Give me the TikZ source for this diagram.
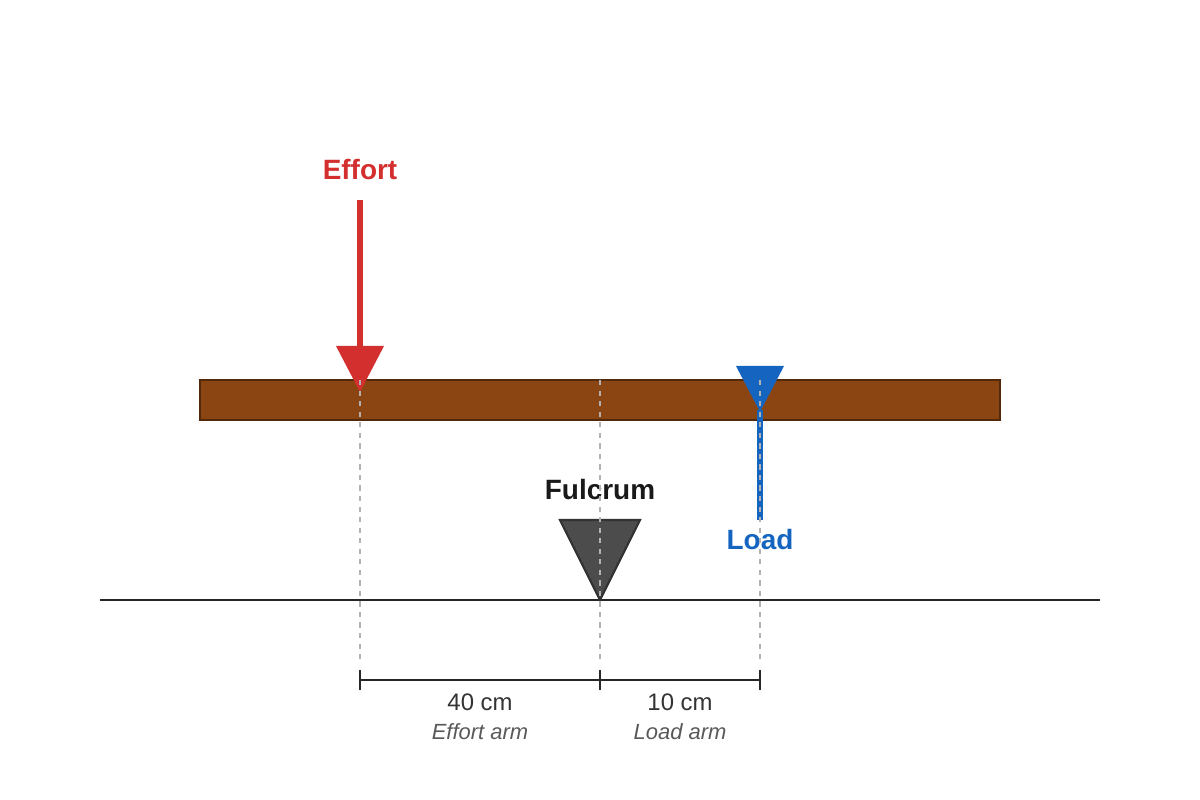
\documentclass[tikz,border=0pt]{standalone}
\usepackage{fontspec}
\setmainfont{Liberation Sans}
\begin{document}
\begin{tikzpicture}[x=0.02cm,y=-0.02cm,
  lbl/.style={font=\fontsize{15.9}{18}\selectfont\bfseries},
  num/.style={font=\fontsize{13.6}{16}\selectfont,text=black!80},
  arm/.style={font=\fontsize{12.5}{15}\selectfont\itshape,text=black!65},
  guide/.style={gray!60,dashed,line width=0.8pt}]
\definecolor{beam}{HTML}{8B4513}
\definecolor{effc}{HTML}{D32F2F}
\definecolor{loadc}{HTML}{1565C0}
\useasboundingbox (0,0) rectangle (1200,800);
% beam
\draw[fill=beam,draw=beam!60!black,line width=1pt] (200,380) rectangle (1000,420);
% ground
\draw[black!85,line width=1.2pt] (100,600) -- (1100,600);
% fulcrum
\draw[fill=black!70,draw=black!80,line width=1.2pt] (560,520) -- (640,520) -- (600,600) -- cycle;
\node[lbl,text=black!90] (ful) at (600,490) {Fulcrum};
% effort
\coordinate (e0) at (360,200);
\coordinate (e1) at (360,350);
\draw[effc,line width=3.5pt] (e0) -- (e1);
\fill[effc] (336,346) -- (384,346) -- (360,392) -- cycle;
\node[lbl,text=effc] (eff) at (360,170) {Effort};
% load
\coordinate (l0) at (760,410);
\coordinate (l1) at (760,520);
\draw[loadc,line width=3pt] (l0) -- (l1);
\fill[loadc] (736,366) -- (784,366) -- (760,412) -- cycle;
\node[lbl,text=loadc] (load) at (760,540) {Load};
% guides
\draw[guide] (360,380) -- (360,660);
\draw[guide] (600,380) -- (600,660);
\draw[guide] (760,380) -- (760,660);
% dimension
\coordinate (d0) at (360,680);
\coordinate (d1) at (600,680);
\coordinate (d2) at (760,680);
\draw[black!85,line width=1.2pt] (d0) -- (d2);
\foreach \p in {d0,d1,d2} \draw[black!85,line width=1.2pt] ([yshift=-10*0.02cm]\p) -- ([yshift=10*0.02cm]\p);
\node[num] (n40) at (480,702) {40 cm};
\node[arm] (a1) at (480,732) {Effort arm};
\node[num] (n10) at (680,702) {10 cm};
\node[arm] (a2) at (680,732) {Load arm};
\end{tikzpicture}
\end{document}
